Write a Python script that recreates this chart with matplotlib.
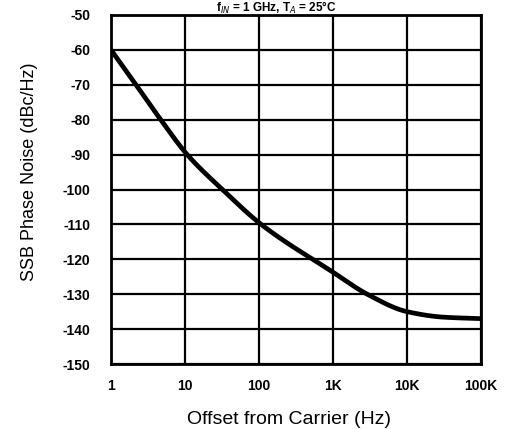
import numpy as np
import matplotlib.pyplot as plt

plt.rcParams['font.family'] = ['Liberation Sans', 'DejaVu Sans']
plt.rcParams['axes.unicode_minus'] = False

# offset frequency (Hz) and SSB phase noise (dBc/Hz)
freq = [1, 2.18, 4.7, 10.7, 32, 107, 1000, 2900, 10000, 32000, 100000]
noise = [-60, -70, -80, -90, -100, -110, -123.7, -130, -135, -136.6, -137]

xticks = [1, 10, 100, 1000, 10000, 100000]
xtick_labels = ["1", "10", "100", "1K", "10K", "100K"]
yticks = list(range(-150, -49, 10))


def pchip(x, y, xs):
    # monotone cubic through the read points
    x = np.asarray(x, float)
    y = np.asarray(y, float)
    h = np.diff(x)
    d = np.diff(y) / h
    m = np.zeros_like(y)
    for i in range(1, len(y) - 1):
        if d[i - 1] * d[i] > 0:
            w1 = 2 * h[i] + h[i - 1]
            w2 = h[i] + 2 * h[i - 1]
            m[i] = (w1 + w2) / (w1 / d[i - 1] + w2 / d[i])
    m[0] = d[0]
    m[-1] = d[-1]
    idx = np.clip(np.searchsorted(x, xs) - 1, 0, len(h) - 1)
    t = (xs - x[idx]) / h[idx]
    h00 = 2 * t ** 3 - 3 * t ** 2 + 1
    h10 = t ** 3 - 2 * t ** 2 + t
    h01 = -2 * t ** 3 + 3 * t ** 2
    h11 = t ** 3 - t ** 2
    return (h00 * y[idx] + h10 * h[idx] * m[idx]
            + h01 * y[idx + 1] + h11 * h[idx] * m[idx + 1])


fig = plt.figure(figsize=(5.05, 4.29), dpi=100)
ax = fig.add_axes([111 / 505, 1 - 364 / 429, 370 / 505, 349 / 429])

lx = np.log10(freq)
ls = np.linspace(lx[0], lx[-1], 400)
ax.plot(10 ** ls, pchip(lx, noise, ls), color="black", linewidth=3.4,
        solid_capstyle="butt")

ax.set_xscale("log")
ax.set_xlim(1, 100000)
ax.set_ylim(-150, -50)
ax.set_xticks(xticks)
ax.set_xticklabels(xtick_labels)
ax.minorticks_off()
ax.set_yticks(yticks)
ax.grid(True, color="black", linewidth=1.6)
ax.tick_params(axis="y", length=0, pad=15, labelsize=10)
ax.tick_params(axis="x", length=0, pad=11, labelsize=10)
for lab in ax.get_xticklabels() + ax.get_yticklabels():
    lab.set_fontweight("bold")
for s in ax.spines.values():
    s.set_linewidth(2)

ax.set_xlabel("Offset from Carrier (Hz)", fontsize=14)
ax.set_ylabel("SSB Phase Noise (dBc/Hz)", fontsize=13)
ax.xaxis.set_label_coords(0.48, -0.16)
ax.yaxis.set_label_coords(-0.22, 0.55)
ax.xaxis.label.set_va("center")
ax.yaxis.label.set_va("center")

fig.text(276 / 505, 1 - 12 / 429, "f$_{IN}$ = 1 GHz, T$_A$ = 25°C",
         ha="center", va="baseline", fontsize=8.5, fontweight="bold")

fig.savefig("out.png", dpi=100)
